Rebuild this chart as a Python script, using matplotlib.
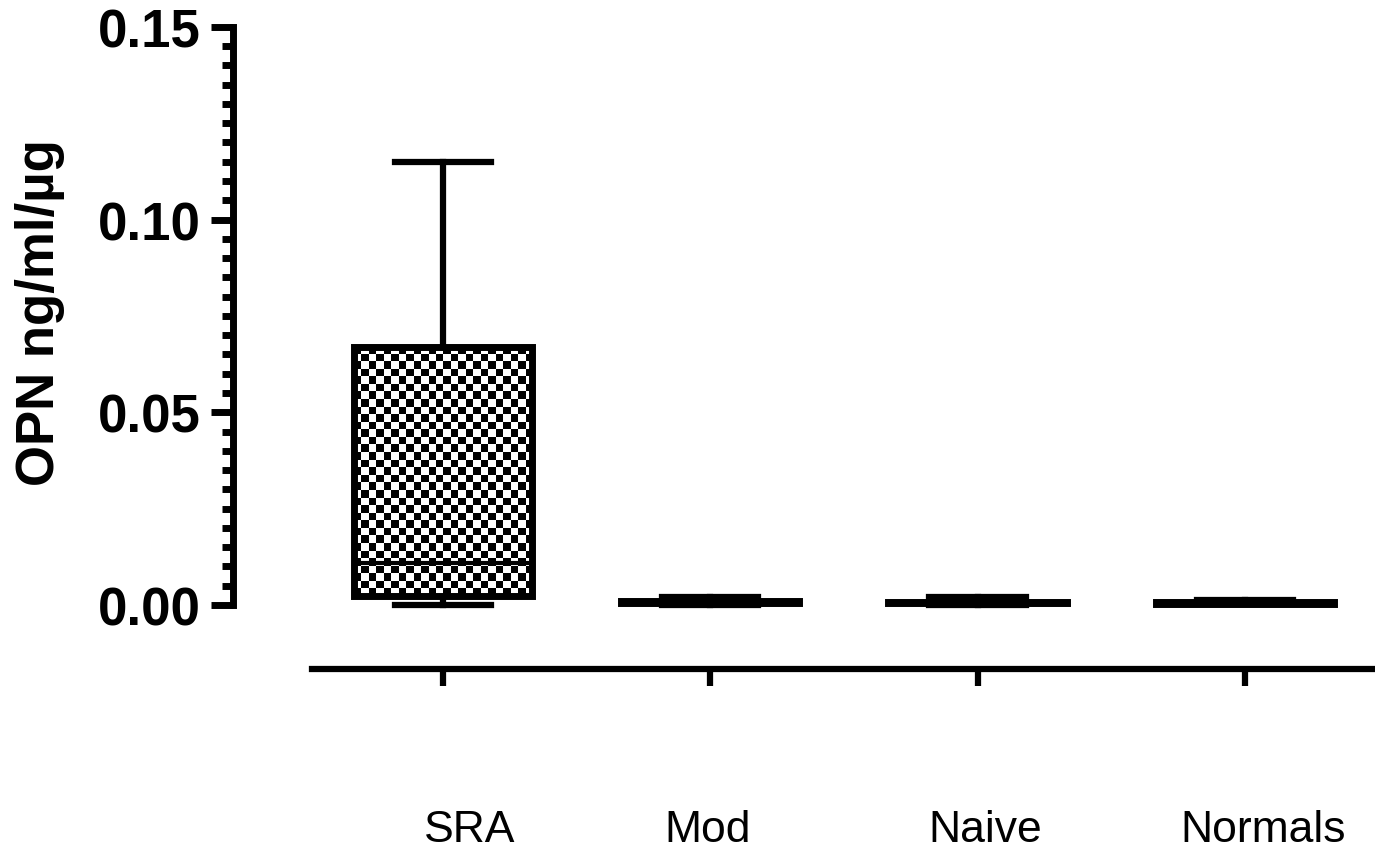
import numpy as np
import matplotlib
matplotlib.use("Agg")
import matplotlib.pyplot as plt
from matplotlib.ticker import FixedLocator, FormatStrFormatter

# values (box-and-whisker, OPN ng/ml/ug)
groups = ['SRA', 'Mod', 'Naive', 'Normals']
whislo = [0.0, 0.0, 0.0, 0.0002]
q1 = [0.0023, 0.0006, 0.0005, 0.0003]
med = [0.011, 0.0008, 0.0006, 0.0005]
q3 = [0.067, 0.0010, 0.0008, 0.0007]
whishi = [0.1148, 0.0022, 0.0022, 0.0012]

major_ticks = [0.0, 0.05, 0.10, 0.15]
minor_ticks = [v for v in np.round(np.arange(0, 0.1501, 0.005), 3) if v not in major_ticks]

fig = plt.figure(figsize=(13.75, 8.54), dpi=100)
ax = fig.add_axes([233 / 1375, 184 / 854, 1142 / 1375, 643 / 854])

pos = np.arange(1, len(groups) + 1)
stats = [dict(whislo=a, q1=b, med=c, q3=d, whishi=e, label=g)
         for a, b, c, d, e, g in zip(whislo, q1, med, q3, whishi, groups)]

bp = ax.bxp(stats, positions=pos, widths=0.667, showfliers=False,
            patch_artist=True,
            boxprops=dict(facecolor='none', edgecolor='black', linewidth=5),
            whiskerprops=dict(color='black', linewidth=4.5),
            capprops=dict(color='black', linewidth=4.5),
            medianprops=dict(color='black', linewidth=3),
            capwidths=0.36)

ax.set_xlim(0.2144, 4.487)
ax.set_ylim(-0.0166, 0.1502)

# checkerboard fill inside the boxes
for b in bp['boxes']:
    b.set_zorder(3)
    v = b.get_path().vertices
    x0, x1 = v[:, 0].min(), v[:, 0].max()
    y0, y1 = v[:, 1].min(), v[:, 1].max()
    p0 = ax.transData.transform((x0, y0))
    p1 = ax.transData.transform((x1, y1))
    nx = max(1, int(round(abs(p1[0] - p0[0]) / 7.5)))
    ny = max(1, int(round(abs(p1[1] - p0[1]) / 7.5)))
    checker = np.add.outer(np.arange(ny), np.arange(nx)) % 2
    im = ax.imshow(checker, cmap='gray', extent=(x0, x1, y0, y1),
                   interpolation='nearest', aspect='auto', zorder=2)
    im.set_clip_path(b)

ax.set_xlim(0.2144, 4.487)
ax.set_ylim(-0.0166, 0.1502)

for s in ['top', 'right']:
    ax.spines[s].set_visible(False)
ax.spines['left'].set_linewidth(5)
ax.spines['left'].set_bounds(0, 0.15)
ax.spines['bottom'].set_linewidth(4.5)
ax.spines['bottom'].set_bounds(0.51, 4.487)

ax.yaxis.set_major_locator(FixedLocator(major_ticks))
ax.yaxis.set_minor_locator(FixedLocator(minor_ticks))
ax.yaxis.set_major_formatter(FormatStrFormatter('%.2f'))
ax.tick_params(axis='y', which='major', length=16, width=5, pad=7)
ax.tick_params(axis='y', which='minor', length=8, width=5)
for lab in ax.get_yticklabels():
    lab.set_fontfamily(['Liberation Sans', 'DejaVu Sans'])
    lab.set_fontweight('bold')
    lab.set_fontsize(38)

ax.set_xticks(pos)
ax.set_xticklabels([''] * len(groups))
ax.tick_params(axis='x', which='major', length=12, width=4.5)

# category names sit well below the axis
nudge = [0.1, -0.01, 0.03, 0.07]
for p, g, n in zip(pos, groups, nudge):
    ax.text(p + n, -0.249, g, transform=ax.get_xaxis_transform(),
            ha='center', va='center', fontsize=32,
            family=['Liberation Sans', 'DejaVu Sans'])

fig.text(40 / 1375, 1 - 313 / 854, 'OPN ng/ml/µg', rotation=90,
         ha='center', va='center', fontsize=38, fontweight='bold',
         family=['Liberation Sans', 'DejaVu Sans'])

fig.savefig('out.png', dpi=100)
